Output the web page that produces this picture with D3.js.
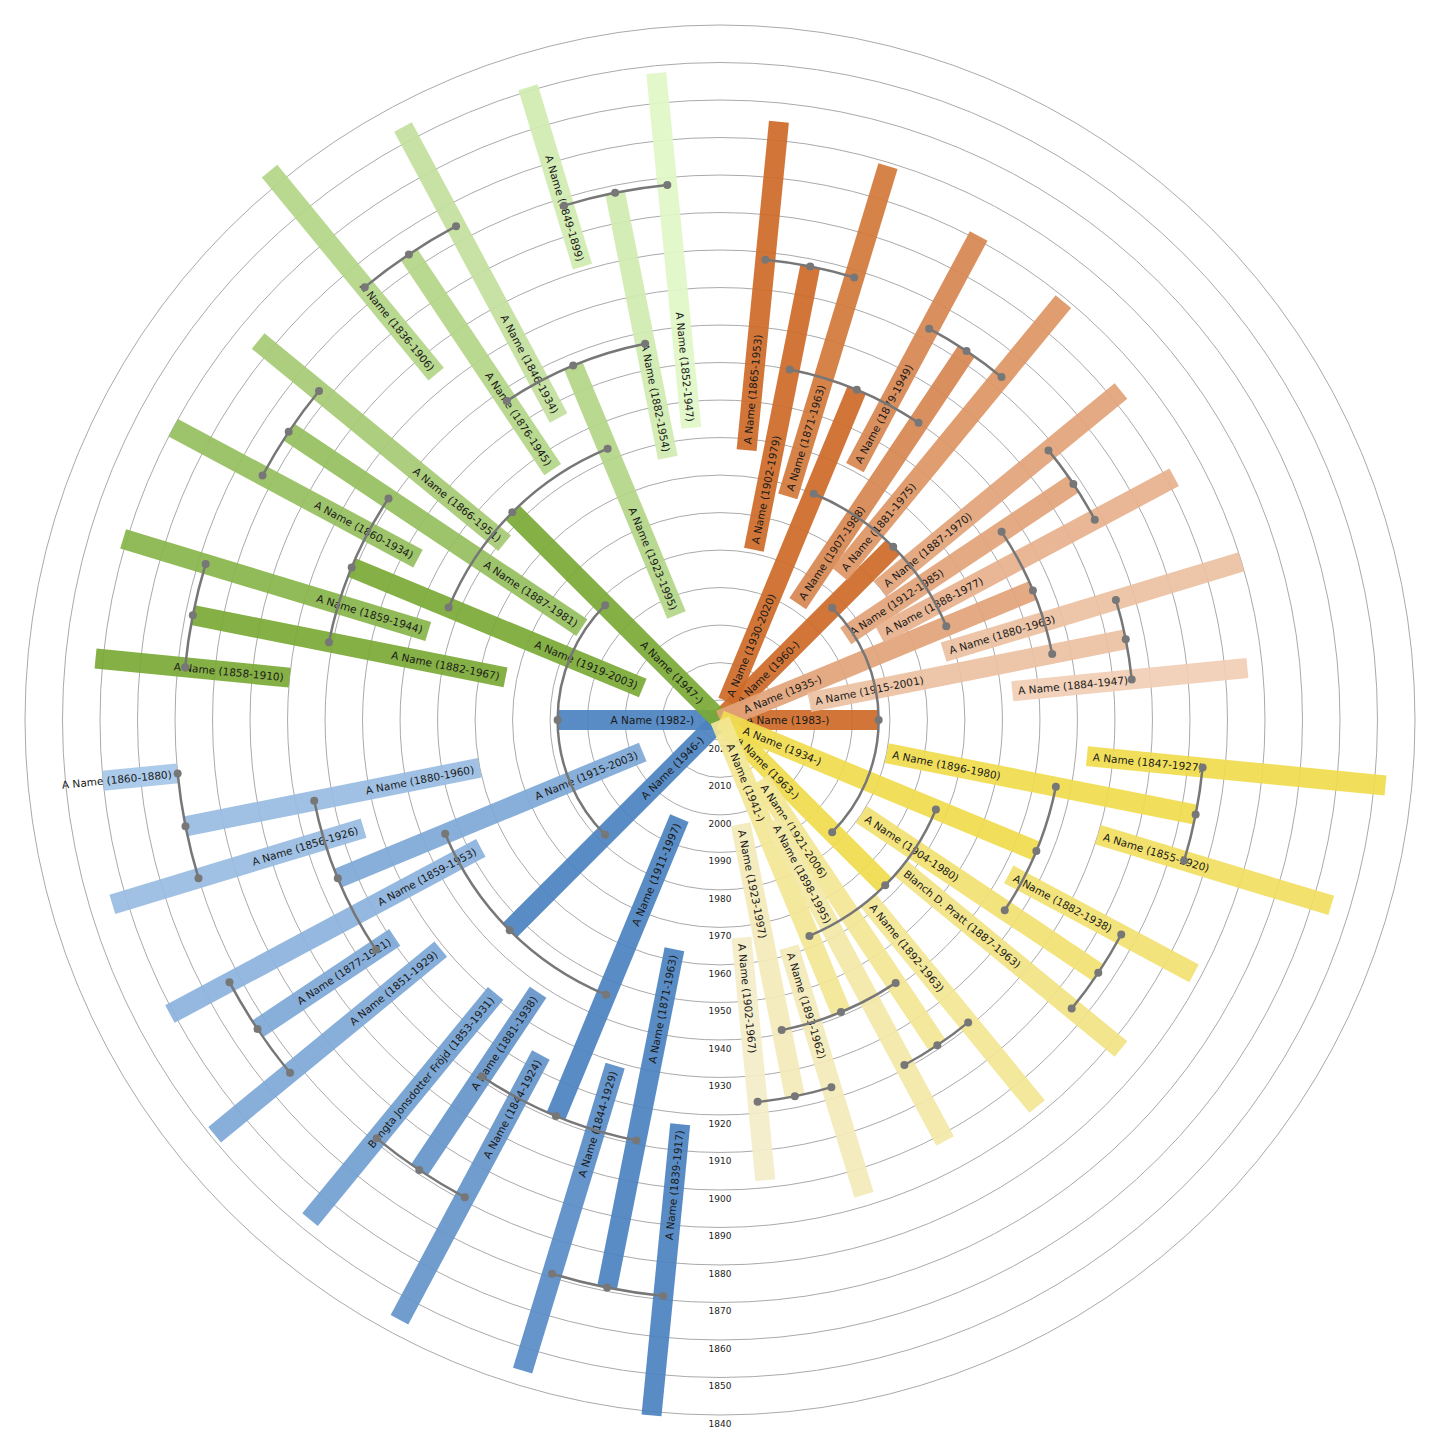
<!DOCTYPE html>
<html>
<head>
<meta charset="utf-8">
<script src="https://cdn.jsdelivr.net/npm/d3@7"></script>
<style>
  body { margin: 0; background: #fff; }
  text { font-family: "DejaVu Sans", sans-serif; }
</style>
</head>
<body>
<svg id="chart" width="1445" height="1445"></svg>
<script>
// ahnentafel numbers: 2 = right root, 3 = left root, parents of n are 2n and 2n+1
const ids = [2, 3, 4, 5, 6, 7,
  8, 9, 10, 11, 12, 13, 14, 15,
  16, 17, 18, 19, 20, 21, 22, 23, 24, 25, 26, 27, 28, 29, 30, 31,
  32, 33, 34, 35, 36, 37, 38, 39, 40, 41, 42, 43, 44, 45, 46, 47,
  48, 49, 50, 51, 52, 53, 54, 55, 56, 57, 58, 59, 60, 61, 62, 63]
const names = ['A Name', 'A Name', 'A Name', 'A Name', 'A Name', 'A Name',
  'A Name', 'A Name', 'A Name', 'A Name', 'A Name', 'A Name', 'A Name', 'A Name',
  'A Name', 'A Name', 'A Name', 'A Name', 'A Name', 'A Name', 'A Name', 'A Name',
  'A Name', 'A Name', 'A Name', 'A Name', 'A Name', 'A Name', 'A Name', 'A Name',
  'A Name', 'A Name', 'A Name', 'A Name', 'A Name', 'A Name', 'A Name', 'A Name',
  'A Name', 'A Name', 'A Name', 'Blanch D. Pratt', 'A Name', 'A Name', 'A Name', 'A Name',
  'A Name', 'A Name', 'A Name', 'Bengta Jonsdotter Fröjd', 'A Name', 'A Name', 'A Name', 'A Name',
  'A Name', 'A Name', 'A Name', 'A Name', 'A Name', 'A Name', 'A Name', 'A Name']
const births = [1983, 1982, 1960, 1963, 1946, 1947,
  1930, 1935, 1934, 1941, 1911, 1915, 1919, 1923,
  1902, 1907, 1912, 1915, 1896, 1904, 1921, 1923, 1871, 1881, 1877, 1880, 1882, 1887, 1876, 1882,
  1865, 1871, 1879, 1881, 1887, 1888, 1880, 1884, 1847, 1855, 1882, 1887, 1892, 1898, 1893, 1902,
  1839, 1844, 1844, 1853, 1851, 1859, 1856, 1860, 1858, 1859, 1860, 1866, 1836, 1846, 1849, 1852]
const deaths = [null, null, null, null, null, null,
  2020, null, null, null, 1997, 2003, 2003, 1995,
  1979, 1988, 1985, 2001, 1980, 1980, 2006, 1997, 1963, 1938, 1921, 1960, 1967, 1981, 1945, 1954,
  1953, 1963, 1949, 1975, 1970, 1977, 1963, 1947, 1927, 1920, 1938, 1963, 1963, 1995, 1962, 1967,
  1917, 1929, 1924, 1931, 1929, 1953, 1926, 1880, 1910, 1944, 1934, 1951, 1906, 1934, 1899, 1947]
const gridYears = d3.range(2020, 1839, -10)
const quadrantColors = [
  ['#cd6a27', '#f4d5bf'],
  ['#f0dc4e', '#f4eed2'],
  ['#4b82bf', '#abcaea'],
  ['#79a935', '#e6fccf']
]

const cx = 720, cy = 720
const svg = d3.select('#chart')
const g = svg.append('g').attr('transform', `translate(${cx},${cy})`)

const r = d3.scaleLinear().domain([2025.3, 1840]).range([0, 695])

const people = ids.map((id, i) => {
  const gen = Math.floor(Math.log2(id))
  const idx = id - 2 ** gen
  const ang = d3.scaleLinear().domain([0, 2 ** gen]).range([0, 360])
  return {
    id, gen, name: names[i], birth: births[i], death: deaths[i],
    a: ang(idx + 0.5), start: ang(idx)
  }
})
const byId = new Map(people.map(p => [p.id, p]))

const color = p => {
  const q = Math.floor(p.start / 90)
  const t = (p.start - q * 90) / 90 / 0.9375
  return d3.interpolateRgb(quadrantColors[q][0], quadrantColors[q][1])(t)
}

// grid circles
g.selectAll('circle.grid').data(gridYears).join('circle')
  .attr('class', 'grid')
  .attr('r', d => r(d))
  .attr('fill', 'none')
  .attr('stroke', '#aaa')
  .attr('stroke-width', 1)

g.selectAll('text.year').data(gridYears).join('text')
  .attr('class', 'year')
  .attr('x', 0)
  .attr('y', d => r(d) + 12)
  .attr('text-anchor', 'middle')
  .attr('font-size', 9)
  .attr('fill', '#222')
  .text(d => d)

// bars
const inner = p => p.death == null ? 0 : r(p.death)
const bars = g.selectAll('g.person').data(people).join('g')
  .attr('class', 'person')
  .attr('transform', p => `rotate(${p.a - 90})`)

bars.append('rect')
  .attr('x', p => inner(p))
  .attr('y', -10)
  .attr('width', p => r(p.birth) - inner(p))
  .attr('height', 20)
  .attr('fill', p => color(p))
  .attr('opacity', 0.92)

// connectors: arc at child's birth radius between the two parents
const links = people.filter(p => byId.has(p.id * 2) && byId.has(p.id * 2 + 1))
const rad = a => (a - 90) * Math.PI / 180
g.selectAll('path.link').data(links).join('path')
  .attr('class', 'link')
  .attr('d', p => {
    const a0 = byId.get(p.id * 2).a, a1 = byId.get(p.id * 2 + 1).a
    const path = d3.path()
    const rr = r(p.birth)
    path.moveTo(rr * Math.cos(rad(a0)), rr * Math.sin(rad(a0)))
    path.arc(0, 0, rr, rad(a0), rad(a1), a1 < a0)
    return path.toString()
  })
  .attr('fill', 'none')
  .attr('stroke', '#777')
  .attr('stroke-width', 2.5)

const dots = []
links.forEach(p => {
  const rr = r(p.birth)
  ;[p, byId.get(p.id * 2), byId.get(p.id * 2 + 1)].forEach(q => dots.push({ rr, a: q.a }))
})
g.selectAll('circle.dot').data(dots).join('circle')
  .attr('class', 'dot')
  .attr('cx', d => d.rr * Math.cos(rad(d.a)))
  .attr('cy', d => d.rr * Math.sin(rad(d.a)))
  .attr('r', 4)
  .attr('fill', '#777')

// labels
const labelR = p => Math.max(inner(p), r(2020)) + 6
const label = p => `${p.name} (${p.birth}-${p.death == null ? '' : p.death})`
bars.append('text')
  .attr('transform', p => p.a < 180 ? null : 'rotate(180)')
  .attr('x', p => p.a < 180 ? labelR(p) : -labelR(p))
  .attr('y', 4)
  .attr('text-anchor', p => p.a < 180 ? 'start' : 'end')
  .attr('font-size', 10.5)
  .attr('fill', '#1a1a1a')
  .text(label)
</script>
</body>
</html>
